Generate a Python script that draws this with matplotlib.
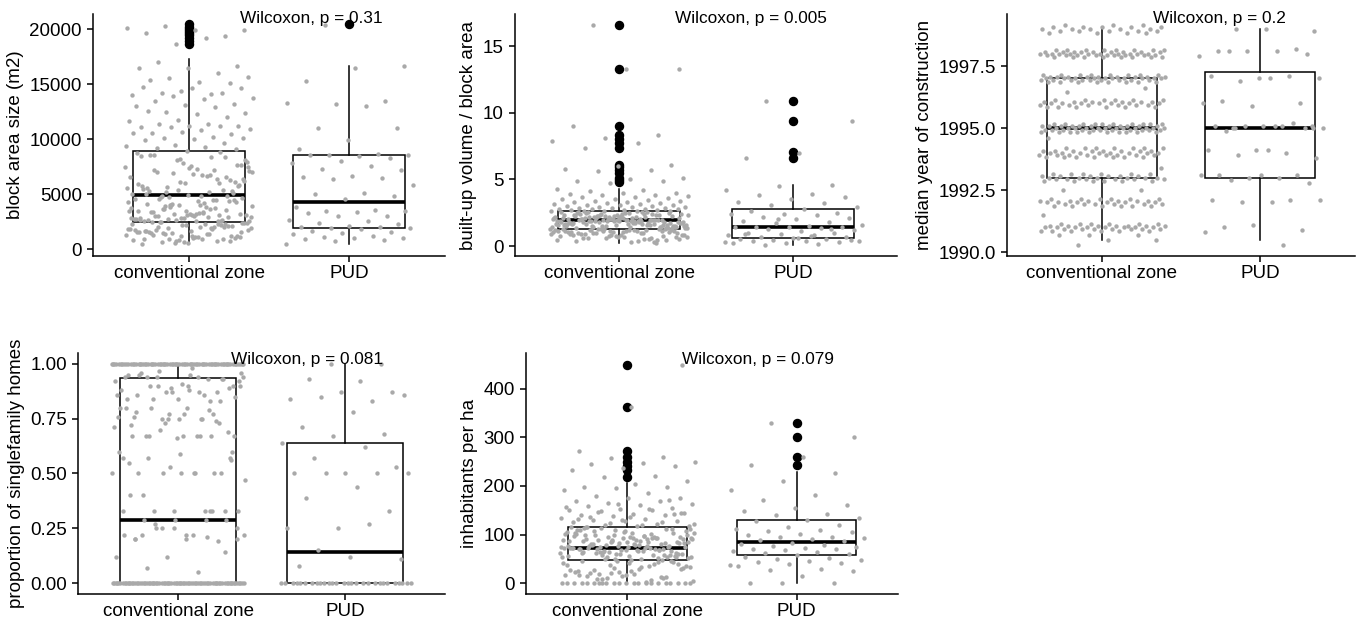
import numpy as np
import matplotlib.pyplot as plt

plt.rcParams['font.family'] = ['Liberation Sans', 'DejaVu Sans']

groups = ['conventional zone', 'PUD']

# ---- block area size (m2) ----
area_conv = [
    20300, 19900, 19900, 19700, 19400, 18700, 20100, 19200,
    17000, 16700, 16500, 16500, 16000, 15600, 15700, 15200, 15400, 15100,
    14400, 14000, 14100, 14200, 14700, 14700, 14800, 14200, 13900, 13800,
    13700, 13500, 13200, 13100, 13000, 12900, 12500, 12400, 12300, 12600,
    12000, 11800, 11700, 11400, 11400, 11200, 11200, 11100, 11200, 11100,
    10900, 10800, 10600, 10500, 10700, 10600, 10200, 10100, 10100, 10000,
    9900, 9700, 9500, 9400, 9300, 9200, 9100,
    8900, 3520, 6420, 2750, 7950, 4400, 5330, 2920, 8200, 3740,
    6760, 4760, 3170, 7590, 5760, 2600, 4140, 6980, 3310, 8600,
    5130, 2860, 4580, 7210, 3900, 6200, 2520, 5540, 3590, 8080,
    4310, 6640, 3040, 7700, 4940, 2700, 5980, 3820, 7100, 4060,
    3380, 6310, 2800, 5030, 8350, 3660, 4670, 6870, 2550, 5430,
    3240, 7450, 4220, 2980, 6090, 3450, 8750, 4490, 5650, 3100,
    7330, 2650, 4850, 3980, 6530, 5230, 2500, 5870, 3200, 8480,
    8820, 4020, 2900, 6710, 3410, 5270, 7880, 2790, 4470, 3690,
    6350, 3020, 4980, 8430, 2680, 5580, 3850, 7060, 4250, 3150,
    5920, 2580, 4720, 7520, 3280, 8550, 4350, 6150, 2840, 3620,
    4880, 7650, 3090, 5480, 2620, 6900, 3940, 3350, 7250, 4520,
    6050, 2720, 3780, 5180, 8120, 3200, 4150, 6580, 5350, 3470,
    2950, 4610, 5710, 7400, 2830, 3120, 3990, 2560, 4800,
    2480, 1190, 2170, 830, 1880, 1450, 2420, 990, 1670, 2060,
    590, 1300, 2310, 1740, 1030, 2200, 1520, 750, 1920, 2380,
    1150, 1600, 2100, 870, 1810, 1380, 2450, 1070, 1700, 510,
    2240, 1490, 1950, 950, 1260, 2130, 670, 1780, 2020, 1340,
    2350, 1110, 1630, 2280, 790, 1850, 1410, 1990, 1230, 550,
    1560, 2330, 910, 1760, 2050, 1470, 710, 1180, 2260, 1960,
    630, 1580, 1210, 950, 890
]
area_pud = [
    20400, 16700, 16500, 15300, 13500, 13200, 13300, 13000, 11000, 11000,
    9900, 9100, 8700, 8600, 8600, 8500, 8600, 8300, 8000, 7800,
    7600, 7300, 7200, 6700, 6600, 6500, 6400, 5800, 5100, 5000,
    4800, 4600, 3800, 3600, 3500, 3500, 3400, 3300, 3000, 3000,
    2700, 2600, 2400, 2300, 2100, 2000, 2000, 1900, 1900, 1800,
    1700, 1600, 1500, 1400, 1200, 1100, 1000, 1000, 900, 800,
    700, 500
]
# whislo, q1, median, q3, whishi
area_box = [[480, 2480, 4930, 8960, 17300], [480, 1940, 4270, 8530, 16700]]
area_out = [[18700, 18950, 19200, 19450, 19650, 19850, 20050, 20250, 20450], [20450]]

# ---- built-up volume / block area ----
vol_conv = [
    16.6, 13.25, 13.25, 9.0, 8.3, 8.1, 7.9, 7.75, 7.35, 6.05,
    6.0, 5.8, 5.7, 5.65, 5.1, 5.0, 4.9, 4.85, 4.75,
    4.3, 4.2, 4.1, 4.0, 3.95, 3.9, 3.85, 3.8, 3.75, 3.7,
    3.65, 3.6, 3.55, 3.5, 3.45, 3.4, 3.35, 3.3, 3.27, 3.25,
    3.2, 3.18, 3.15, 3.1, 3.08, 3.05, 3.0, 2.98, 2.95, 2.92,
    2.9, 2.88, 2.85, 2.83, 2.8, 2.78, 2.76, 2.74, 2.72, 2.7,
    2.68, 2.66, 2.65, 2.63, 2.62, 2.61,
    1.92, 2.31, 1.55, 2.08, 1.74, 2.47, 1.38, 1.96, 2.15, 1.63,
    2.52, 1.85, 1.41, 2.22, 1.99, 1.68, 2.39, 1.33, 1.88, 2.05,
    1.57, 2.28, 1.79, 2.56, 1.46, 2.11, 1.94, 1.71, 2.35, 1.52,
    2.01, 1.83, 2.44, 1.36, 2.18, 1.65, 1.97, 2.26, 1.49, 1.9,
    2.58, 1.77, 2.03, 1.59, 2.41, 1.86, 1.43, 2.13, 1.69, 2.33,
    1.95, 1.31, 2.2, 1.8, 2.49, 1.54, 2.07, 1.73, 1.91, 2.37,
    1.62, 2.24, 1.39, 1.99, 2.16, 1.84, 2.54, 1.47, 2.09, 1.66,
    1.93, 2.3, 1.58, 1.76, 2.42, 1.35, 2.04, 1.89, 2.19, 1.51,
    1.82, 2.5, 1.64, 1.98, 2.27, 1.44, 1.87, 2.12, 1.7, 2.36,
    1.56, 1.94, 2.23, 1.78, 1.4, 2.45, 1.61, 2.02, 1.9, 1.67,
    2.17, 1.48, 2.39, 1.81, 1.97, 1.53, 2.29, 1.75, 2.06, 1.34,
    1.88, 2.55, 1.6, 2.14, 1.72, 1.95, 2.32, 1.45, 1.85, 2.1,
    2.0, 1.63, 2.25, 1.91, 1.5, 2.43, 1.8, 1.37, 2.07, 1.93,
    1.28, 0.84, 1.12, 0.55, 1.21, 0.97, 0.68, 1.05, 0.42, 1.25,
    0.9, 1.16, 0.61, 1.08, 0.77, 1.27, 0.49, 1.0, 0.86, 1.19,
    0.35, 1.1, 0.72, 1.23, 0.94, 0.58, 1.14, 0.8, 1.02, 0.28,
    1.26, 0.66, 1.17, 0.88, 0.45, 1.07, 0.74, 1.22, 0.99, 0.52,
    1.13, 0.82, 1.29, 0.63, 1.04, 0.38, 0.92, 1.18, 0.7, 1.09,
    0.57, 1.24, 0.85, 0.3, 1.01, 0.76, 1.15, 0.47, 0.95, 1.2,
    0.65, 1.06, 0.88, 0.25, 1.11
]
vol_pud = [
    10.9, 9.4, 7.0, 6.6, 4.6, 4.5, 4.2, 3.9, 3.8, 3.7,
    3.5, 3.3, 3.2, 3.1, 2.9, 2.8, 2.6, 2.5, 2.4, 2.4,
    2.3, 2.2, 2.1, 2.0, 1.9, 1.8, 1.7, 1.6, 1.5, 1.45,
    1.4, 1.4, 1.4, 1.35, 1.3, 1.2, 1.1, 1.0, 0.95, 0.9,
    0.85, 0.8, 0.7, 0.65, 0.6, 0.55, 0.5, 0.45, 0.4, 0.4,
    0.35, 0.3, 0.25, 0.2, 0.15, 0.1, 0.45, 0.6, 0.9, 1.25,
    2.0, 0.3, 0.75
]
vol_box = [[0.25, 1.3, 1.93, 2.6, 4.3], [0.1, 0.58, 1.43, 2.8, 4.6]]
vol_out = [[16.6, 13.25, 9.0, 8.3, 8.0, 7.75, 7.35, 6.05, 5.9, 5.7, 5.5, 5.1, 4.95, 4.8],
           [10.9, 9.4, 7.05, 6.6]]

# ---- median year of construction (value, count) ----
year_conv_vals = [1990.3, 1990.5, 1990.7,
                  1990.85, 1990.93, 1991.0, 1991.07, 1991.15, 1991.5,
                  1991.85, 1991.93, 1992.0, 1992.07, 1992.15, 1992.5,
                  1992.85, 1992.93, 1993.0, 1993.07, 1993.15, 1993.4,
                  1993.82, 1993.92, 1994.0, 1994.08, 1994.2, 1994.6,
                  1994.85, 1994.93, 1995.0, 1995.07, 1995.15,
                  1995.85, 1995.93, 1996.0, 1996.07, 1996.15, 1996.45, 1996.6,
                  1996.85, 1996.93, 1997.0, 1997.07, 1997.15,
                  1997.85, 1997.93, 1998.0, 1998.07, 1998.15,
                  1998.85, 1998.93, 1999.0, 1999.07, 1999.15]
year_conv_counts = [1, 2, 3,
                    6, 7, 8, 7, 6, 1,
                    6, 6, 6, 6, 6, 2,
                    6, 6, 6, 6, 6, 1,
                    7, 8, 8, 8, 7, 1,
                    10, 11, 12, 11, 10,
                    6, 6, 7, 6, 6, 1, 1,
                    8, 9, 10, 9, 8,
                    8, 9, 10, 9, 8,
                    4, 5, 5, 5, 3]
year_pud = [
    1999.0, 1998.9, 1999.0, 1998.1, 1998.2, 1998.1, 1997.9, 1998.1, 1998.1, 1998.0,
    1997.0, 1997.1, 1997.1, 1996.9, 1997.0, 1997.0, 1996.1, 1996.0, 1995.9, 1996.0,
    1995.1, 1995.0, 1995.1, 1995.1, 1995.1, 1995.2, 1995.1, 1995.0, 1995.1, 1994.9,
    1995.0, 1994.1, 1994.1, 1994.0, 1993.9, 1993.8, 1994.1, 1993.1, 1993.1, 1993.0,
    1993.1, 1993.0, 1992.9, 1992.8, 1993.1, 1992.1, 1992.1, 1992.0, 1992.1, 1992.0,
    1991.0, 1990.9, 1991.1, 1990.8, 1990.3, 1995.0, 1995.0
]
year_box = [[1990.5, 1993.0, 1995.0, 1997.0, 1999.0], [1990.5, 1993.0, 1995.0, 1997.26, 1999.0]]
year_out = [[], []]

# ---- proportion of singlefamily homes ----
sf_conv_vals = [0.0, 1.0]
sf_conv_counts = [80, 75]
sf_conv = [
    0.94, 0.93, 0.94, 0.92, 0.90, 0.86, 0.83, 0.77, 0.76, 0.67,
    0.67, 0.60, 0.50, 0.40, 0.33, 0.25, 0.22, 0.22, 0.22, 0.14,
    0.25, 0.57, 0.33, 0.33, 0.20, 0.20, 0.20, 0.87, 0.87, 0.92,
    0.94, 0.94, 0.89, 0.84, 0.84, 0.83, 0.97, 0.96, 0.95, 0.95,
    0.93, 0.89, 0.80, 0.75, 0.80, 0.67, 0.67, 0.67, 0.50, 0.50,
    0.50, 0.50, 0.29, 0.29, 0.29, 0.22, 0.21, 0.25, 0.33, 0.80,
    0.78, 0.73, 0.75, 0.86, 0.87, 0.57, 0.56, 0.59, 0.55, 0.67,
    0.70, 0.94, 0.98, 0.96, 0.93, 0.87, 0.88, 0.86, 0.84, 0.85,
    0.77, 0.76, 0.74, 0.73, 0.71, 0.67, 0.67, 0.69, 0.66, 0.80,
    0.79, 0.90, 0.90, 0.88, 0.50, 0.50, 0.53, 0.60, 0.75, 0.90,
    0.90, 0.91, 0.72, 0.77, 0.75, 0.47, 0.50, 0.40, 0.33, 0.33,
    0.33, 0.29, 0.27, 0.25, 0.22, 0.20, 0.19, 0.12, 0.12, 0.05,
    0.07, 0.57, 0.75, 0.95, 0.33
]
sf_pud_zeros = 28
sf_pud = [
    0.92, 0.93, 0.87, 0.87, 0.84, 0.83, 0.85, 0.86, 0.78, 0.71,
    0.68, 0.67, 0.64, 0.62, 0.57, 0.53, 0.50, 0.50, 0.50, 0.50,
    0.50, 0.44, 0.39, 0.33, 0.25, 0.25, 0.27, 0.15, 0.11, 0.12,
    0.08, 1.0, 1.0
]
sf_box = [[0.0, 0.0, 0.287, 0.934, 1.0], [0.0, 0.0, 0.1435, 0.639, 1.0]]
sf_out = [[], []]

# ---- inhabitants per ha ----
inh_conv_zeros = 22
inh_conv = [
    449, 363, 272, 260, 258, 250, 248, 245, 240, 237,
    232, 220, 218, 210, 203, 198, 197, 195, 192, 185,
    180, 176, 175, 170, 168, 165, 162, 160, 158, 155,
    153, 150, 150, 148, 145, 142, 140, 140, 138, 135,
    133, 130, 128, 127, 125, 122, 120, 118, 117, 116,
    172, 163, 157, 152, 147, 144, 137, 132, 126, 124,
    121, 119, 136, 143, 129,
    72, 95, 58, 108, 81, 64, 112, 50, 88, 76,
    99, 61, 85, 104, 69, 53, 92, 78, 115, 66,
    83, 57, 101, 74, 90, 48, 110, 70, 86, 62,
    97, 79, 55, 106, 73, 93, 67, 51, 89, 114,
    75, 60, 102, 84, 71, 96, 56, 109, 80, 65,
    91, 49, 77, 103, 68, 87, 59, 113, 74, 94,
    63, 82, 100, 54, 72, 107, 85, 69, 98, 52,
    79, 111, 66, 91, 58, 76, 105, 73, 88, 61,
    95, 70, 47, 84, 103, 67, 80, 57, 93, 116,
    71, 64, 99, 78, 86, 55, 109, 73, 90, 62,
    82, 75, 101, 68, 96, 53, 87, 72, 112, 60,
    77, 94, 65, 83, 104, 70, 58, 89, 74, 97,
    81, 63, 107, 72, 92, 50, 85, 69, 100, 76,
    45, 18, 35, 9, 30, 42, 25, 13, 38, 5,
    33, 22, 44, 15, 28, 40, 8, 36, 20, 46,
    12, 31, 41, 3, 27, 39, 17, 23, 43, 10,
    34, 29, 14, 46, 24, 37, 6, 19, 32, 26,
    16, 11, 21
]
inh_pud = [
    329, 300, 260, 243, 227, 210, 192, 182, 172, 160,
    155, 148, 142, 140, 135, 130, 128, 120, 115, 112,
    110, 108, 105, 102, 100, 96, 95, 93, 90, 88,
    86, 83, 80, 78, 76, 75, 72, 71, 70, 68,
    67, 65, 62, 60, 58, 55, 52, 50, 48, 45,
    43, 42, 40, 35, 30, 28, 25, 15, 0, 0,
    0, 38
]
inh_box = [[0, 46.9, 72.8, 115.6, 207], [0, 59, 85, 130, 228]]
inh_out = [[449, 363, 272, 260, 250, 240, 232, 219], [329, 300, 260, 243]]

year_conv = np.repeat(year_conv_vals, year_conv_counts)
sf_conv_all = np.concatenate([np.repeat(sf_conv_vals, sf_conv_counts), sf_conv])
sf_pud_all = np.concatenate([np.zeros(sf_pud_zeros), sf_pud])
inh_conv_all = np.concatenate([np.zeros(inh_conv_zeros), inh_conv])

W, H = 1356, 621
fig = plt.figure(figsize=(W / 100, H / 100), dpi=100)


def jitter(n):
    # spread points across +/-0.4 of the category width
    return ((np.arange(n) * 0.618034 + 0.31) % 1 - 0.5) * 0.8


def panel(px, data, box, outl, ylabel, yticks, ylim, ptxt, tick_fmt=None, text_y=0.98):
    left, right, top, bottom = px
    ax = fig.add_axes([left / W, 1 - bottom / H, (right - left) / W, (bottom - top) / H])
    stats = []
    for b, o in zip(box, outl):
        stats.append(dict(whislo=b[0], q1=b[1], med=b[2], q3=b[3], whishi=b[4], fliers=o))
    ax.bxp(stats, positions=[1, 2], widths=0.7, showcaps=False, patch_artist=True,
           boxprops=dict(facecolor='white', edgecolor='black', linewidth=1.1),
           medianprops=dict(color='black', linewidth=2.6),
           whiskerprops=dict(color='black', linewidth=1.1),
           flierprops=dict(marker='o', markerfacecolor='black', markeredgecolor='black',
                           markersize=5.8), zorder=2)
    for i, vals in enumerate(data):
        vals = np.asarray(vals, dtype=float)
        ax.scatter(i + 1 + jitter(len(vals)), vals, s=10, color='#a9a9a9',
                   linewidths=0, zorder=3)
    ax.set_xlim(0.4, 2.6)
    ax.set_ylim(*ylim)
    ax.set_xticks([1, 2])
    ax.set_xticklabels(groups)
    ax.set_yticks(yticks)
    if tick_fmt:
        ax.set_yticklabels([tick_fmt.format(t) for t in yticks])
    ax.set_ylabel(ylabel, fontsize=13.5)
    ax.tick_params(labelsize=13.5, length=4.5, width=1.1, colors='black', direction='out')
    ax.tick_params(axis='x', pad=2)
    for s in ['top', 'right']:
        ax.spines[s].set_visible(False)
    for s in ['left', 'bottom']:
        ax.spines[s].set_linewidth(1.1)
    ax.text(1.32, text_y, ptxt, transform=ax.get_xaxis_transform(), ha='left',
            va='center', fontsize=12.4, zorder=5)
    return ax


panel((93, 445, 14, 256), [area_conv, area_pud], area_box, area_out,
      'block area size (m2)', [0, 5000, 10000, 15000, 20000], (-620, 21400),
      'Wilcoxon, p = 0.31')
panel((515, 897, 14, 256), [vol_conv, vol_pud], vol_box, vol_out,
      'built-up volume / block area', [0, 5, 10, 15], (-0.75, 17.4),
      'Wilcoxon, p = 0.005')
panel((1007, 1355, 14, 256), [year_conv, year_pud], year_box, year_out,
      'median year of construction', [1990.0, 1992.5, 1995.0, 1997.5], (1989.84, 1999.6),
      'Wilcoxon, p = 0.2', tick_fmt='{:.1f}')
panel((78, 445, 353, 594), [sf_conv_all, sf_pud_all], sf_box, sf_out,
      'proportion of singlefamily homes', [0, 0.25, 0.5, 0.75, 1.0], (-0.05, 1.05),
      'Wilcoxon, p = 0.081', tick_fmt='{:.2f}', text_y=0.975)
panel((526, 898, 353, 594), [inh_conv_all, inh_pud], inh_box, inh_out,
      'inhabitants per ha', [0, 100, 200, 300, 400], (-22, 473),
      'Wilcoxon, p = 0.079', text_y=0.975)

fig.savefig('out.png', dpi=100)
